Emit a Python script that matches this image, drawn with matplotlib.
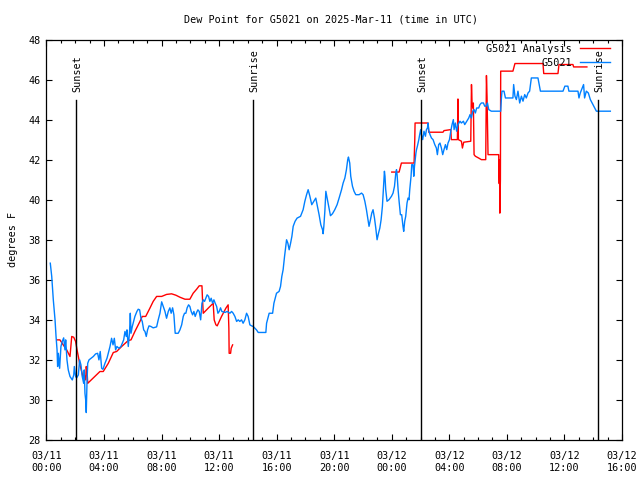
import matplotlib
matplotlib.use("Agg")
import matplotlib.pyplot as plt
import numpy as np
from matplotlib.ticker import MultipleLocator, FixedLocator

plt.rcParams['font.family'] = ['DejaVu Sans Mono']

# hours since 03/11 00:00 UTC
obs_hours = [0.27, 0.37, 0.48, 0.60, 0.67, 0.74, 0.78, 0.83, 0.92, 1.01, 1.10, 1.20, 1.29, 1.34, 1.43,
             1.52, 1.64, 1.80, 1.90, 1.94, 2.03, 2.10, 2.22, 2.31, 2.40, 2.49, 2.59, 2.63, 2.68, 2.73,
             2.77, 2.82, 2.87, 2.96, 3.10, 3.26, 3.42, 3.56, 3.65, 3.74, 3.84, 3.93, 4.07, 4.21, 4.30,
             4.42, 4.53, 4.63, 4.72, 4.81, 4.90, 5.04, 5.18, 5.27, 5.37, 5.46, 5.55, 5.60, 5.69, 5.78,
             5.83, 5.88, 5.97, 6.06, 6.15, 6.29, 6.38, 6.48, 6.57, 6.66, 6.76, 6.85, 6.94, 7.03, 7.13,
             7.26, 7.42, 7.66, 7.77, 7.89, 8.01, 8.12, 8.24, 8.35, 8.47, 8.58, 8.67, 8.77, 8.86, 8.95,
             9.16, 9.28, 9.40, 9.51, 9.60, 9.69, 9.78, 9.88, 9.97, 10.06, 10.16, 10.25, 10.34, 10.44,
             10.53, 10.62, 10.72, 10.81, 10.90, 10.99, 11.08, 11.17, 11.27, 11.36, 11.45, 11.55, 11.64,
             11.73, 11.83, 11.92, 12.01, 12.10, 12.19, 12.42, 12.56, 12.75, 12.87, 12.98, 13.10, 13.22,
             13.33, 13.44, 13.56, 13.67, 13.79, 13.91, 14.02, 14.14, 14.26, 14.37, 14.60, 14.72, 15.25,
             15.30, 15.48, 15.72, 15.81, 15.99, 16.17, 16.27, 16.36, 16.45, 16.55, 16.69, 16.78, 16.87,
             16.97, 17.06, 17.15, 17.28, 17.42, 17.66, 17.84, 17.96, 18.08, 18.19, 18.31, 18.44, 18.58,
             18.72, 18.81, 18.95, 19.07, 19.19, 19.23, 19.28, 19.35, 19.42, 19.51, 19.65, 19.74, 19.88,
             20.04, 20.20, 20.34, 20.51, 20.62, 20.74, 20.85, 20.94, 20.99, 21.08, 21.15, 21.27, 21.38,
             21.50, 21.73, 21.90, 22.01, 22.13, 22.24, 22.35, 22.42, 22.52, 22.61, 22.70, 22.80, 22.89,
             22.98, 23.08, 23.17, 23.26, 23.35, 23.44, 23.49, 23.53, 23.58, 23.67, 23.81, 23.98, 24.09,
             24.19, 24.28, 24.33, 24.37, 24.44, 24.51, 24.60, 24.69, 24.78, 24.83, 24.90, 24.97, 25.06,
             25.13, 25.20, 25.25, 25.34, 25.39, 25.48, 25.53, 25.58, 25.68, 25.72, 25.78, 25.88, 25.94,
             26.01, 26.06, 26.15, 26.24, 26.34, 26.41, 26.48, 26.52, 26.58, 26.66, 26.76, 26.87, 26.99,
             27.10, 27.17, 27.26, 27.35, 27.45, 27.54, 27.63, 27.73, 27.82, 27.91, 28.01, 28.10, 28.19,
             28.28, 28.33, 28.42, 28.51, 28.60, 28.74, 28.84, 28.98, 29.07, 29.21, 29.35, 29.44, 29.53,
             29.63, 29.72, 29.81, 29.90, 30.04, 30.13, 30.23, 30.37, 30.46, 30.55, 30.65, 30.74, 30.92,
             31.57, 31.62, 31.66, 31.80, 31.90, 32.42, 32.47, 32.56, 32.66, 32.77, 32.89, 33.01, 33.12,
             33.24, 33.35, 33.47, 33.58, 33.70, 34.16, 34.33, 35.90, 36.03, 36.24, 36.31, 36.94, 37.01,
             37.10, 37.24, 37.33, 37.40, 37.52, 37.66, 37.80, 37.98, 38.22, 39.19]
obs_dewpt = [36.83, 36.17, 35.0, 34.0, 33.17, 32.5, 31.67, 32.33, 31.58, 32.67, 32.92, 33.1, 32.5, 33.0, 32.0,
             31.5, 31.17, 31.0, 31.25, 31.67, 31.17, 31.1, 31.25, 32.0, 31.75, 31.17, 30.83, 31.5, 30.33, 30.0,
             29.37, 30.83, 31.83, 32.0, 32.08, 32.17, 32.3, 32.33, 32.0, 32.42, 31.58, 31.53, 31.83, 32.08, 32.33,
             32.67, 33.08, 32.75, 33.08, 32.5, 32.67, 32.58, 32.67, 32.83, 33.0, 33.42, 33.17, 33.5, 32.67, 33.42,
             34.33, 33.33, 33.67, 33.92, 34.17, 34.42, 34.53, 34.5, 34.08, 33.92, 33.5, 33.42, 33.17, 33.5, 33.7,
             33.67, 33.6, 33.65, 34.0, 34.33, 34.9, 34.67, 34.42, 34.08, 34.42, 34.6, 34.33, 34.6, 34.25, 33.33,
             33.33, 33.5, 33.75, 34.17, 34.33, 34.33, 34.6, 34.75, 34.67, 34.42, 34.25, 34.42, 34.17, 34.37,
             34.5, 34.42, 34.0, 34.83, 35.0, 34.92, 35.08, 35.25, 35.17, 34.92, 35.08, 34.83, 35.0,
             34.83, 34.67, 34.33, 34.42, 34.6, 34.42, 34.37, 34.42, 34.33, 34.42, 34.33, 34.17, 33.92,
             34.0, 33.92, 34.0, 33.83, 34.0, 34.33, 34.17, 33.75, 33.7, 33.67, 33.5, 33.37, 33.37,
             33.83, 34.33, 34.33, 34.83, 35.33, 35.42, 35.67, 36.17, 36.5, 37.17, 38.0, 37.83, 37.5,
             37.83, 38.17, 38.67, 38.92, 39.08, 39.17, 39.5, 39.92, 40.25, 40.5, 40.17, 39.75, 39.92,
             40.08, 39.75, 39.25, 38.75, 38.5, 38.3, 38.67, 39.42, 40.42, 40.08, 39.58, 39.2, 39.3,
             39.5, 39.75, 40.08, 40.5, 40.83, 41.08, 41.5, 42.0, 42.13, 41.83, 41.17, 40.67, 40.42,
             40.25, 40.25, 40.33, 40.25, 39.92, 39.5, 39.0, 38.67, 39.0, 39.33, 39.5, 39.08, 38.58,
             38.0, 38.33, 38.58, 39.0, 39.67, 40.83, 41.42, 41.17, 40.5, 39.92, 40.0, 40.17, 40.33,
             40.67, 41.33, 41.5, 41.25, 40.5, 39.92, 39.25, 39.25, 38.67, 38.42, 38.92, 39.17, 39.83,
             40.08, 40.0, 40.5, 41.17, 41.75, 41.75, 41.17, 41.67, 42.33, 42.5, 42.67, 43.0, 43.25,
             43.5, 43.25, 43.0, 43.42, 43.17, 43.5, 43.58, 43.83, 43.42, 43.25, 43.08, 43.0, 42.75,
             42.58, 42.25, 42.75, 42.83, 42.58, 42.25, 42.5, 42.75, 42.5, 42.83, 43.0, 43.42, 43.75,
             44.0, 43.5, 43.83, 43.42, 43.75, 43.92, 43.83, 43.92, 43.75, 43.92, 44.08, 44.25, 44.08,
             44.42, 44.5, 44.33, 44.58, 44.58, 44.75, 44.83, 44.83, 44.67, 44.67, 44.83, 44.5, 44.42,
             44.42, 45.08, 45.42, 45.42, 45.08, 45.08, 45.75, 45.17, 45.0, 45.42, 44.83, 45.17, 44.92,
             45.25, 45.08, 45.33, 45.42, 46.08, 46.08, 45.42, 45.42, 45.67, 45.67, 45.42, 45.42, 45.08,
             45.33, 45.58, 45.75, 45.08, 45.42, 45.33, 45.0, 44.75, 44.42, 44.42]

# analysis (nan = gap in the data)
ana_hours = [0.72, 0.94, 1.17, 1.41, 1.64, 1.76, 1.90, 2.03, 2.13, 2.22, 2.33, 2.45, 2.56, 2.63, 2.73,
             2.77, 2.84, 2.87, 3.72, 3.95, 4.30, 4.65, 4.88, 5.23, 5.69, 5.88, 6.15, 6.50, 6.66, 6.90,
             7.19, 7.42, 7.66, 8.01, 8.35, 8.70, 9.00, 9.28, 9.63, 9.97, 10.20, 10.44, 10.62, 10.81,
             10.85, 10.90, 11.24, 11.59, 11.66, 11.78, 11.87, 12.17, 12.47, 12.63, 12.68, 12.70, 12.80,
             12.84, 12.94, 18.0,
             24.00, 24.51, 24.67, 25.55, 25.60, 25.62, 26.52, 26.57, 27.56, 27.63, 28.10, 28.14, 28.56,
             28.60, 28.63, 28.84, 28.91, 29.00, 29.49, 29.54, 29.58, 29.63, 29.67, 29.72, 29.81, 30.04,
             30.23, 30.53, 30.58, 30.62, 30.69, 31.43, 31.47, 31.49, 31.51, 31.55, 31.57, 32.42, 32.56,
             34.51, 34.56, 35.55, 35.62, 36.59, 36.64, 37.56]
ana_dewpt = [33.0, 33.0, 32.75, 32.5, 32.17, 33.17, 33.13, 32.92, 32.5, 32.17, 31.75, 31.42, 31.08, 31.25, 31.0,
             31.67, 31.25, 30.83, 31.42, 31.42, 31.83, 32.37, 32.42, 32.67, 32.97, 33.0, 33.42, 33.92, 34.17, 34.17,
             34.58, 34.92, 35.17, 35.17, 35.27, 35.3, 35.23, 35.13, 35.03, 35.03, 35.33, 35.53, 35.7, 35.7,
             35.0, 34.33, 34.58, 34.83, 34.0, 33.75, 33.7, 34.17, 34.58, 34.75, 33.58, 32.33, 32.33,
             32.58, 32.75, np.nan,
             41.38, 41.38, 41.83, 41.83, 43.0, 43.83, 43.83, 43.37, 43.37, 43.45, 43.5, 43.0, 43.0,
             45.03, 43.0, 42.92, 42.58, 42.87, 42.92, 45.75, 44.83, 44.58, 44.83, 42.25, 42.17, 42.08,
             42.0, 42.0, 46.2, 45.17, 42.25, 42.25, 40.8, 42.0, 39.33, 41.0, 46.42, 46.42, 46.8,
             46.8, 46.3, 46.3, 46.75, 46.75, 46.63, 46.63]

sun_events = [2.06, 14.37, 26.01, 38.33]
sun_labels = ["Sunset", "Sunrise", "Sunset", "Sunrise"]

tick_hours = [0, 4, 8, 12, 16, 20, 24, 28, 32, 36, 40]
tick_labels = ["03/11\n00:00", "03/11\n04:00", "03/11\n08:00", "03/11\n12:00", "03/11\n16:00",
               "03/11\n20:00", "03/12\n00:00", "03/12\n04:00", "03/12\n08:00", "03/12\n12:00",
               "03/12\n16:00"]

fs = 7.3
fig = plt.figure(figsize=(6.4, 4.8), dpi=100)
ax = fig.add_axes([46.4 / 640, 40 / 480, 575.6 / 640, 400.5 / 480])

ax.plot(ana_hours, ana_dewpt, color="#ff0000", lw=1.0, label="G5021 Analysis")
ax.plot(obs_hours, obs_dewpt, color="#0080ff", lw=1.0, label="G5021")

for t, lab in zip(sun_events, sun_labels):
    ax.plot([t, t], [28, 45], color="black", lw=1.0)
    ax.annotate(lab, (t, 45.4), xytext=(1.2, 0), textcoords="offset points",
                rotation=90, ha="center", va="bottom", fontsize=fs)

ax.set_xlim(0, 40)
ax.set_ylim(28, 48)
ax.xaxis.set_major_locator(FixedLocator(tick_hours))
ax.set_xticklabels(tick_labels)
ax.xaxis.set_minor_locator(MultipleLocator(1))
ax.yaxis.set_major_locator(MultipleLocator(2))
ax.tick_params(which="both", direction="in", top=True, right=True, labelsize=fs, width=0.8)
ax.tick_params(which="major", length=4, pad=4)
ax.tick_params(which="minor", length=2)
ax.tick_params(axis="x", pad=8)
for s in ax.spines.values():
    s.set_linewidth(0.9)

ax.set_ylabel("degrees F", fontsize=fs, labelpad=7.5)

ax.legend(loc="upper right", frameon=False, markerfirst=False, fontsize=fs,
          handlelength=2.9, handletextpad=0.8, labelspacing=0.4,
          borderpad=0.0, borderaxespad=0.0, bbox_to_anchor=(1 - 12.5 / 575.6, 1 - 4 / 400.5))

fig.text(331.5 / 640, 1 - 19 / 480, "Dew Point for G5021 on 2025-Mar-11 (time in UTC)",
         ha="center", va="center", fontsize=fs)

fig.savefig("out.png", dpi=100)
